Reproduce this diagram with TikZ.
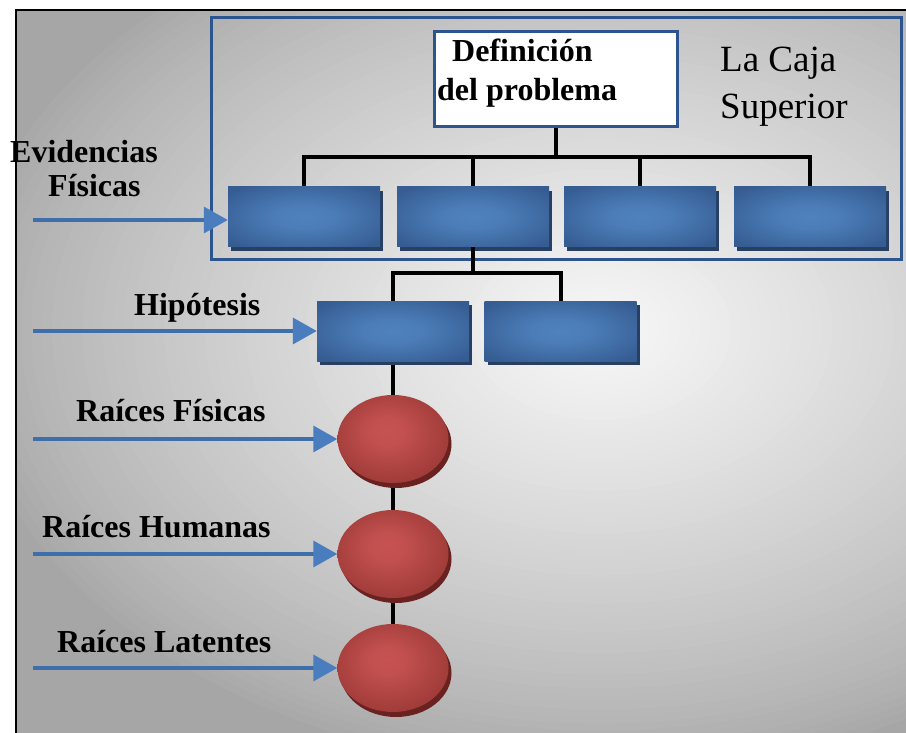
\documentclass[tikz,border=0pt]{standalone}
\usepackage{fontspec}
\setmainfont{Liberation Serif}
\usetikzlibrary{arrows.meta,shadows,shapes.geometric}
\definecolor{bggray}{HTML}{A6A6A6}
\definecolor{bglight}{HTML}{F4F4F4}
\definecolor{boxlight}{HTML}{4F82BE}
\definecolor{boxdark}{HTML}{365D92}
\definecolor{boxshadow}{HTML}{263F63}
\definecolor{redlight}{HTML}{C65352}
\definecolor{reddark}{HTML}{953532}
\definecolor{redshadow}{HTML}{6A2220}
\definecolor{frameblue}{HTML}{2C5590}
\definecolor{arrowblue}{HTML}{3F6FAA}
\definecolor{headblue}{HTML}{4A7DBD}
\pgfdeclareradialshading{boxshade}{\pgfpoint{0bp}{0bp}}{color(0bp)=(boxlight); color(10bp)=(boxlight!85!boxdark); color(32bp)=(boxdark); color(50bp)=(boxdark)}
\pgfdeclareradialshading{redshade}{\pgfpoint{-3bp}{5bp}}{color(0bp)=(redlight); color(8bp)=(redlight!90!reddark); color(34bp)=(reddark); color(60bp)=(reddark)}
\pgfdeclarelayer{bg}
\pgfsetlayers{bg,main}
\tikzset{
  bluebox/.style={rectangle, minimum width=152pt, minimum height=60pt, inner sep=0pt,
    shade, shading=boxshade,
    general shadow={fill=boxshadow, shadow xshift=3pt, shadow yshift=-4pt}},
  redell/.style={ellipse, minimum width=111pt, minimum height=88pt, inner sep=0pt,
    shade, shading=redshade,
    general shadow={fill=redshadow, shadow xshift=3pt, shadow yshift=-5pt}},
  conn/.style={line width=4pt, black},
  arr/.style={line width=3.5pt, arrowblue, -{Triangle[length=24pt,width=26pt,color=headblue]}},
  lab/.style={anchor=base west, inner sep=0pt, font=\fontsize{32}{34}\selectfont\bfseries},
  cajatxt/.style={anchor=base west, inner sep=0pt, font=\fontsize{37}{40}\selectfont},
}
\begin{document}
\begin{tikzpicture}[x=1pt,y=-1pt]
\useasboundingbox (0,0) rectangle (906,733);
\begin{pgfonlayer}{bg}
\begin{scope}
\clip (0,0) rectangle (906,733);
\fill[bggray] (16,10) rectangle (920,750);
\begin{scope}
\clip (16,10) rectangle (920,750);
\foreach \i in {0,...,60}{
  \pgfmathsetmacro{\f}{1-\i/60*0.94}
  \pgfmathsetmacro{\p}{100*((1-\f)/0.94)^0.8}
  \fill[bglight!\p!bggray] (600,330) ellipse ({650*\f} and {450*\f});
}
\end{scope}
\draw[line width=2pt] (16,10) rectangle (920,750);
\end{scope}
\end{pgfonlayer}

% upper box
\node[draw=frameblue, line width=3pt, minimum width=690pt, minimum height=242pt, inner sep=0pt] (caja) at (556,139) {};
\node[draw=frameblue, line width=3pt, fill=white, minimum width=243pt, minimum height=95pt, inner sep=0pt] (def) at (555.5,79.5) {};
\node[lab] (deft1) at (452,62) {Definición};
\node[lab] (deft2) at (437,101) {del problema};
\node[cajatxt] (caja1) at (720,72) {La Caja};
\node[cajatxt] (caja2) at (720,119) {Superior};

% boxes
\node[bluebox] (b1) at (304,217) {};
\node[bluebox] (b2) at (473,217) {};
\node[bluebox] (b3) at (640,217) {};
\node[bluebox] (b4) at (810,217) {};
\node[bluebox] (b5) at (393,331) {};
\node[bluebox] (b6) at (560.5,331) {};

% ellipses
\node[redell] (e1) at (393,439) {};
\node[redell] (e2) at (393,554) {};
\node[redell] (e3) at (393,668) {};

% connectors
\begin{pgfonlayer}{bg}
\draw[conn] (def.south) -- ++(0,30);
\draw[conn] (b1.north) -- ++(0,-30) -| (b4.north);
\draw[conn] (b2.north) -- ++(0,-30);
\draw[conn] (b3.north) -- ++(0,-30);
\draw[conn] (b5.north) -- ++(0,-28) -| (b6.north);
\draw[conn] (b5.south) -- (e1.north);
\draw[conn] (e1.south) -- (e2.north);
\draw[conn] (e2.south) -- (e3.north);
\end{pgfonlayer}
\draw[conn] (b2.south) -- ++(0,26);

% labels
\node[lab] (l1a) at (10,163) {Evidencias};
\node[lab] (l1b) at (48,197) {Físicas};
\node[lab] (l2) at (134,315) {Hipótesis};
\node[lab] (l3) at (76,421) {Raíces Físicas};
\node[lab] (l4) at (42,537) {Raíces Humanas};
\node[lab] (l5) at (57,652) {Raíces Latentes};

% arrows
\coordinate (s1) at (33,220);
\coordinate (s2) at (33,331);
\coordinate (s3) at (33,439);
\coordinate (s4) at (33,554);
\coordinate (s5) at (33,668);
\draw[arr] (s1) -- (s1 -| b1.west);
\draw[arr] (s2) -- (b5.west);
\draw[arr] (s3) -- (e1.west);
\draw[arr] (s4) -- (e2.west);
\draw[arr] (s5) -- (e3.west);
\end{tikzpicture}
\end{document}
